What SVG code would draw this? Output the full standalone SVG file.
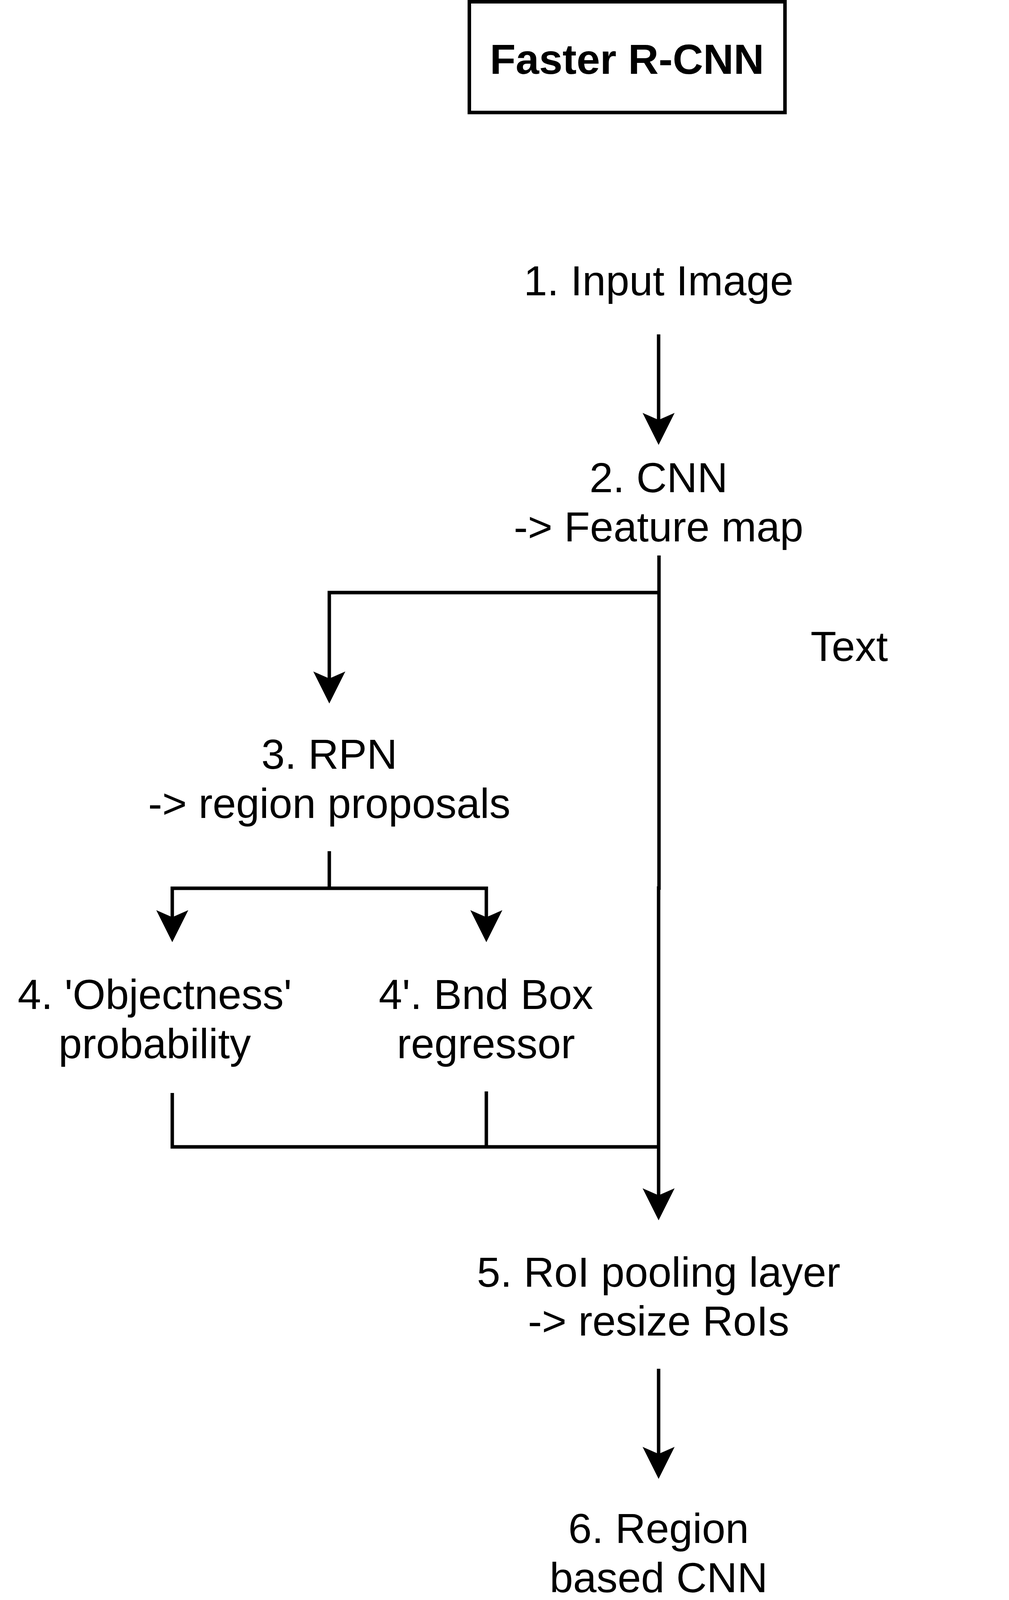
<svg xmlns="http://www.w3.org/2000/svg" width="2583" height="5499" viewBox="0 0 2583 5499">
  <style>
    text { font-family: "Liberation Sans", Arial, Helvetica, sans-serif; font-size: 108px; fill: #000; text-anchor: middle; }
    .title { font-weight: bold; }
    .edge { fill: none; stroke: #000; stroke-width: 8.8; stroke-linejoin: miter; stroke-linecap: butt; }
    .box { fill: #fff; stroke: #000; stroke-width: 9; }
  </style>
  <defs>
    <marker id="arrow" markerUnits="userSpaceOnUse" viewBox="0 -42 84 84" markerWidth="84" markerHeight="84" refX="18" refY="0" orient="auto" overflow="visible">
      <path d="M82,0 L0,-41 L18,0 L0,41 Z" fill="#000" stroke="none"/>
    </marker>
  </defs>
  <rect width="2583" height="5499" fill="#fff"/>

  <g id="connectors">
    <!-- 1 -> 2 -->
    <path class="edge" d="M1686,856 L1686,1075" marker-end="url(#arrow)"/>
    <!-- 2 -> 5 main trunk (two segments) -->
    <path class="edge" d="M1687,1422 L1687,2278"/>
    <path class="edge" d="M1686,2269 L1686,3060" marker-end="url(#arrow)"/>
    <!-- 2 -> 3 -->
    <path class="edge" d="M1687,1517 L843,1517 L843,1737" marker-end="url(#arrow)"/>
    <!-- 3 -> 4 and 4' -->
    <path class="edge" d="M843,2179 L843,2274"/>
    <path class="edge" d="M843,2274 L441,2274 L441,2348" marker-end="url(#arrow)"/>
    <path class="edge" d="M843,2274 L1245,2274 L1245,2348" marker-end="url(#arrow)"/>
    <!-- 4 and 4' -> trunk -->
    <path class="edge" d="M441,2798 L441,2936 L1686,2936"/>
    <path class="edge" d="M1245,2794 L1245,2936"/>
    <!-- 5 -> 6 -->
    <path class="edge" d="M1686,3504 L1686,3722" marker-end="url(#arrow)"/>
    <!-- 6 -> 7 -->
    <path class="edge" d="M1686,4165 L1686,4384" marker-end="url(#arrow)"/>
    <!-- 7 -> 8 and 8' -->
    <path class="edge" d="M1686,4827 L1686,4923"/>
    <path class="edge" d="M1686,4923 L1162,4923 L1162,5044" marker-end="url(#arrow)"/>
    <path class="edge" d="M1686,4923 L2208,4923 L2208,5044" marker-end="url(#arrow)"/>
  </g>

  <g id="title">
    <rect class="box" x="1201.5" y="4.5" width="808" height="283.5"/>
    <text class="title" x="1605" y="189">Faster R-CNN</text>
  </g>

  <g id="node1">
    <text x="1686" y="756">1. Input Image</text>
  </g>

  <g id="node2">
    <text x="1686" y="1260">2. CNN</text>
    <text x="1686" y="1386">-&gt; Feature map</text>
  </g>

  <g id="node-text">
    <text x="2174" y="1692">Text</text>
  </g>

  <g id="node3">
    <text x="843" y="1968">3. RPN</text>
    <text x="843" y="2094">-&gt; region proposals</text>
  </g>

  <g id="node4">
    <text x="396" y="2583">4. 'Objectness'</text>
    <text x="396" y="2709">probability</text>
  </g>

  <g id="node4b">
    <text x="1244" y="2583">4'. Bnd Box</text>
    <text x="1244" y="2709">regressor</text>
  </g>

  <g id="node5">
    <text x="1686" y="3294">5. RoI pooling layer</text>
    <text x="1686" y="3419">-&gt; resize RoIs</text>
  </g>

  <g id="node6">
    <text x="1686" y="3950">6. Region</text>
    <text x="1686" y="4076">based CNN</text>
  </g>

  <g id="node7">
    <text x="1686" y="4680">7. FC layers</text>
  </g>

  <g id="node8">
    <text x="1162" y="5211">8. Softmax</text>
    <text x="1162" y="5336">(Classes</text>
    <text x="1162" y="5461">prediction)</text>
  </g>

  <g id="node8b">
    <text x="2208" y="5272">8'. Bnd Box</text>
    <text x="2208" y="5397">regressor</text>
  </g>
</svg>
